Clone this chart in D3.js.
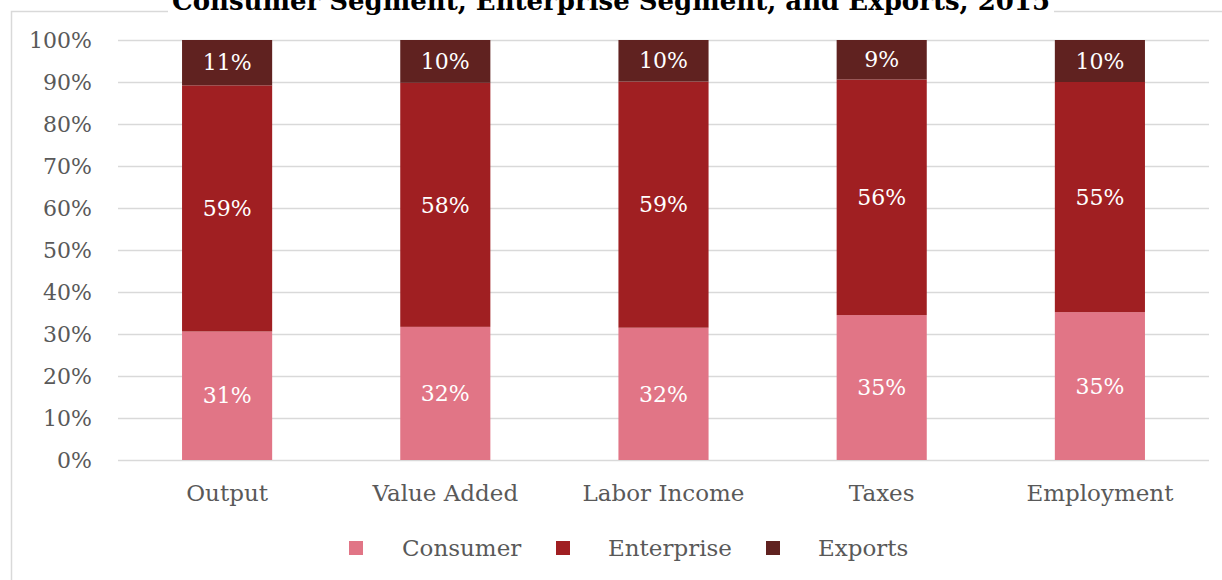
<!DOCTYPE html>
<html>
<head>
<meta charset="utf-8">
<script src="https://cdn.jsdelivr.net/npm/d3@7"></script>
<style>
  body { margin: 0; background: #fff; }
  svg { display: block; }
  text { font-family: "DejaVu Serif", "Liberation Serif", serif; }
</style>
</head>
<body>
<svg id="chart" width="1222" height="580"></svg>
<script>
// Shares of economic impact by segment (percent)
const categories = ["Output", "Value Added", "Labor Income", "Taxes", "Employment"];
const seriesNames = ["Consumer", "Enterprise", "Exports"];
const consumer   = [30.6, 31.7, 31.5, 34.5, 35.2];
const enterprise = [58.6, 58.1, 58.6, 56.1, 54.8];
const exportsShare = [10.8, 10.2, 9.9, 9.4, 10.0];
const yTicks = [0, 10, 20, 30, 40, 50, 60, 70, 80, 90, 100];
const titleText = "Consumer Segment, Enterprise Segment, and Exports, 2015";

const colors = ["#E17586", "#A01F22", "#602220"];
const seriesValues = [consumer, enterprise, exportsShare];

const rows = categories.map((c, i) => {
  const r = { category: c };
  seriesNames.forEach((s, k) => { r[s] = seriesValues[k][i]; });
  return r;
});

const svg = d3.select("#chart");
const plot = { left: 118, right: 1209, top: 40, bottom: 460 };

// Chart frame
svg.append("rect")
  .attr("x", 11.5).attr("y", 11.5)
  .attr("width", 1222).attr("height", 620)
  .attr("fill", "#fff")
  .attr("stroke", "#d9d9d9").attr("stroke-width", 1.5);

const x = d3.scaleBand()
  .domain(categories)
  .range([plot.left, plot.right])
  .paddingInner(0.587)
  .paddingOuter(0.2935);

const y = d3.scaleLinear().domain([0, 100]).range([plot.bottom, plot.top]);

const color = d3.scaleOrdinal().domain(seriesNames).range(colors);

// Gridlines
const grid = svg.append("g")
  .attr("transform", `translate(${plot.left},0)`)
  .call(d3.axisLeft(y).tickValues(yTicks).tickSize(-(plot.right - plot.left)).tickFormat(""));
grid.select(".domain").remove();
grid.selectAll("line").attr("stroke", "#d9d9d9").attr("stroke-width", 1.5);

// Y axis labels
const yAxis = svg.append("g")
  .attr("transform", `translate(${plot.left},0)`)
  .call(d3.axisLeft(y).tickValues(yTicks).tickSize(0).tickPadding(26).tickFormat(d => d + "%"));
yAxis.select(".domain").remove();
yAxis.selectAll("text")
  .attr("fill", "#595959")
  .style("font-size", "22px")
  .style("font-family", "DejaVu Serif");

// Stacked bars
const stack = d3.stack().keys(seriesNames);
const layers = stack(rows);

const layerG = svg.append("g").selectAll("g")
  .data(layers)
  .join("g")
  .attr("fill", d => color(d.key));

layerG.selectAll("rect")
  .data(d => d)
  .join("rect")
  .attr("x", d => x(d.data.category))
  .attr("width", x.bandwidth())
  .attr("y", d => y(d[1]))
  .attr("height", d => y(d[0]) - y(d[1]));

// Value labels
layerG.selectAll("text")
  .data(d => d.map(v => ({ v, key: d.key })))
  .join("text")
  .attr("x", d => x(d.v.data.category) + x.bandwidth() / 2)
  .attr("y", d => y((d.v[0] + d.v[1]) / 2))
  .attr("dy", "0.35em")
  .attr("text-anchor", "middle")
  .attr("fill", "#fff")
  .style("font-size", "22px")
  .text(d => Math.round(d.v.data[d.key]) + "%");

// Category axis
const xAxis = svg.append("g")
  .attr("transform", `translate(0,${plot.bottom})`)
  .call(d3.axisBottom(x).tickSize(0));
xAxis.select(".domain").remove();
xAxis.selectAll("text")
  .attr("y", 33)
  .attr("dy", "0.35em")
  .attr("fill", "#595959")
  .style("font-size", "23px")
  .style("font-family", "DejaVu Serif");

// Legend
const legendItems = [
  { name: "Consumer", sx: 349, tx: 402 },
  { name: "Enterprise", sx: 556, tx: 608 },
  { name: "Exports", sx: 766, tx: 818 }
];
const legend = svg.append("g");
const li = legend.selectAll("g").data(legendItems).join("g");
li.append("rect")
  .attr("x", d => d.sx).attr("y", 541)
  .attr("width", 14).attr("height", 14)
  .attr("fill", d => color(d.name));
li.append("text")
  .attr("x", d => d.tx).attr("y", 548)
  .attr("dy", "0.35em")
  .attr("fill", "#595959")
  .style("font-size", "23px")
  .text(d => d.name);

// Title, sitting on the top edge of the frame
const titleG = svg.append("g");
const titleBg = titleG.append("rect").attr("fill", "#fff");
const title = titleG.append("text")
  .attr("x", 611).attr("y", 10)
  .attr("text-anchor", "middle")
  .attr("fill", "#000")
  .style("font-size", "26px")
  .style("font-weight", "bold")
  .text(titleText);
const tb = title.node().getBBox();
titleBg
  .attr("x", tb.x - 4).attr("y", 0)
  .attr("width", tb.width + 8).attr("height", 18);
</script>
</body>
</html>
